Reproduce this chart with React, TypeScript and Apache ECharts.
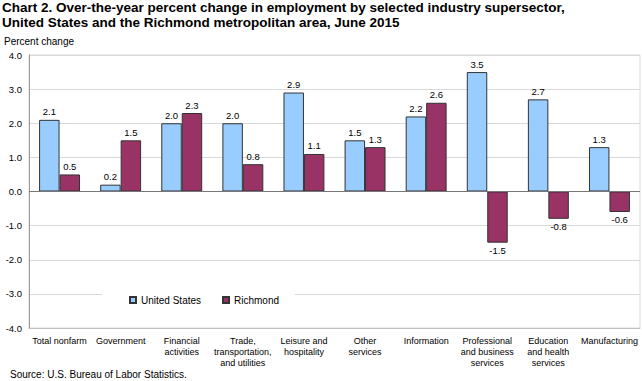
import React, { useEffect, useRef } from "react";
import * as echarts from "echarts";

const categories = [
  "Total nonfarm",
  "Government",
  "Financial\nactivities",
  "Trade,\ntransportation,\nand utilities",
  "Leisure and\nhospitality",
  "Other\nservices",
  "Information",
  "Professional\nand business\nservices",
  "Education\nand health\nservices",
  "Manufacturing",
];
const unitedStates = [2.1, 0.2, 2.0, 2.0, 2.9, 1.5, 2.2, 3.5, 2.7, 1.3];
const richmond = [0.5, 1.5, 2.3, 0.8, 1.1, 1.3, 2.6, -1.5, -0.8, -0.6];
const yTicks = { min: -4, max: 4, interval: 1 };

const FONT = "'Liberation Sans', Arial, sans-serif";

function toItems(vals: number[]) {
  return vals.map((v) => ({
    value: v,
    label: { position: v < 0 ? "bottom" : "top" },
  }));
}

export default function App() {
  const ref = useRef<HTMLDivElement>(null);
  useEffect(() => {
    document.body.style.margin = "0";
    const chart = echarts.init(ref.current!, undefined, { renderer: "svg" });
    const labelStyle = {
      show: true,
      fontSize: 9.5,
      fontFamily: FONT,
      color: "#000",
      distance: 3,
      formatter: (p: any) => Number(p.value).toFixed(1),
    };
    chart.setOption({
      animation: false,
      backgroundColor: "#fff",
      textStyle: { fontFamily: FONT },
      title: {
        text: "Chart 2. Over-the-year percent change in employment by selected industry supersector,\nUnited States and the Richmond metropolitan area, June 2015",
        left: 2,
        top: 0,
        padding: 0,
        textStyle: {
          fontFamily: FONT,
          fontSize: 13.5,
          fontWeight: "bold",
          color: "#000",
          lineHeight: 15,
        },
      },
      legend: {
        left: 102,
        top: 287,
        padding: [8, 16, 8, 27],
        backgroundColor: "#fff",
        itemWidth: 6,
        itemHeight: 6,
        itemGap: 21,
        icon: "rect",
        textStyle: { fontSize: 10, fontFamily: FONT, color: "#000" },
        data: ["United States", "Richmond"],
      },
      grid: {
        left: 29,
        right: 2,
        top: 55,
        bottom: 53,
        show: true,
        borderColor: "#d9d9d9",
        borderWidth: 1,
      },
      xAxis: {
        type: "category",
        data: categories,
        axisLine: { onZero: false, lineStyle: { color: "#bfbfbf" } },
        axisTick: { show: false },
        axisLabel: {
          interval: 0,
          fontSize: 9,
          fontFamily: FONT,
          color: "#000",
          lineHeight: 11,
          margin: 7,
        },
      },
      yAxis: {
        type: "value",
        min: yTicks.min,
        max: yTicks.max,
        interval: yTicks.interval,
        name: "Percent change",
        nameLocation: "end",
        nameGap: 8.5,
        nameTextStyle: { fontSize: 10, fontFamily: FONT, color: "#000", align: "left", padding: [0, 0, 0, -25] },
        axisLine: { show: true, lineStyle: { color: "#999" } },
        axisTick: { show: false },
        splitLine: { lineStyle: { color: "#d9d9d9" } },
        axisLabel: {
          fontSize: 9.5,
          fontFamily: FONT,
          color: "#000",
          margin: 7,
          formatter: (v: number) => v.toFixed(1),
        },
      },
      series: [
        {
          name: "United States",
          type: "bar",
          data: toItems(unitedStates),
          barGap: "0%",
          barCategoryGap: "33%",
          itemStyle: { color: "#99CCFF", borderColor: "#333", borderWidth: 1 },
          label: labelStyle,
          markLine: {
            silent: true,
            symbol: "none",
            label: { show: false },
            lineStyle: { color: "#777", type: "solid", width: 1 },
            data: [{ yAxis: 0 }],
          },
        },
        {
          name: "Richmond",
          type: "bar",
          data: toItems(richmond),
          itemStyle: { color: "#993366", borderColor: "#333", borderWidth: 1 },
          label: labelStyle,
        },
      ],
      graphic: [
        {
          type: "text",
          left: 10,
          top: 369,
          style: {
            text: "Source: U.S. Bureau of Labor Statistics.",
            fontSize: 10,
            fontFamily: FONT,
            fill: "#000",
          },
        },
      ],
    });
    return () => chart.dispose();
  }, []);
  return <div ref={ref} style={{ width: 642, height: 381 }} />;
}
